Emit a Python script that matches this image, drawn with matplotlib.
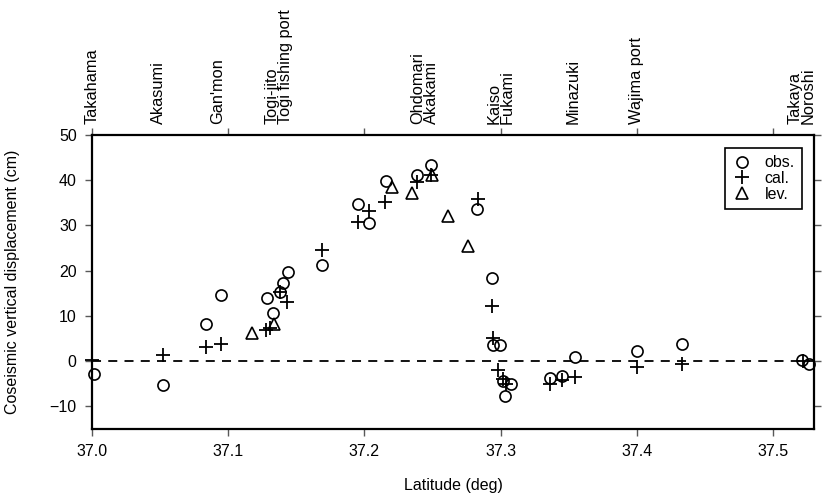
import matplotlib
matplotlib.use("Agg")
import matplotlib.pyplot as plt
from matplotlib.lines import Line2D

plt.rcParams['font.family'] = ['Liberation Sans', 'DejaVu Sans']

# observed displacement (circles)
obs_lat = [37.0015, 37.0519, 37.0837, 37.0945, 37.1283, 37.1327, 37.1380, 37.1405,
           37.1437, 37.1686, 37.1951, 37.2036, 37.2156, 37.2388, 37.2487, 37.2824,
           37.2934, 37.2942, 37.2996, 37.3020, 37.3077, 37.3032, 37.3363, 37.3453,
           37.3546, 37.4004, 37.4334, 37.5211, 37.5260]
obs_val = [-2.8, -5.3, 8.3, 14.5, 13.9, 10.7, 15.3, 17.3,
           19.7, 21.3, 34.6, 30.5, 39.8, 41.1, 43.3, 33.5,
           18.4, 3.5, 3.5, -4.3, -5.0, -7.8, -3.8, -3.4,
           0.8, 2.2, 3.7, 0.3, -0.7]

# calculated displacement (pluses)
cal_lat = [37.0000, 37.0520, 37.0837, 37.0945, 37.1280, 37.1310, 37.1380, 37.1430,
           37.1690, 37.1951, 37.2036, 37.2150, 37.2388, 37.2487, 37.2832, 37.2934,
           37.2940, 37.2983, 37.3015, 37.3040, 37.3363, 37.3450, 37.3546, 37.4004,
           37.4334, 37.5220]
cal_val = [0.2, 1.4, 3.1, 3.7, 6.8, 7.2, 15.3, 13.1,
           24.5, 30.8, 33.1, 35.2, 39.6, 41.1, 35.9, 12.2,
           5.0, -1.9, -4.0, -5.0, -5.0, -4.1, -3.5, -1.2,
           -0.7, 0.0]

# levelling (triangles)
lev_lat = [37.1177, 37.1339, 37.2205, 37.2347, 37.2494, 37.2616, 37.2763]
lev_val = [6.1, 8.1, 38.5, 37.2, 41.1, 32.0, 25.4]

station_lat = [37.000, 37.049, 37.092, 37.137, 37.244, 37.300, 37.353, 37.400, 37.521]
station_names = ["Takahama", "Akasumi", "Gan'mon", "Togi-jito\nTogi fishing port",
                 "Ohdomari\nAkakami", "Kaiso\nFukami", "Minazuki", "Wajima port",
                 "Takaya\nNoroshi"]

xticks = [37.0, 37.1, 37.2, 37.3, 37.4, 37.5]
yticks = [-10, 0, 10, 20, 30, 40, 50]

fig = plt.figure(figsize=(8.22, 4.97), dpi=100)
ax = fig.add_axes([0.1119, 0.1368, 0.8784, 0.5922])

ax.axhline(0, color='black', lw=1.3, ls=(0, (5, 4)), zorder=1)

ms = 8
ax.plot(obs_lat, obs_val, 'o', ms=ms, mfc='none', mec='black', mew=1.2, zorder=3, clip_on=False)
ax.plot(cal_lat, cal_val, '+', ms=ms + 1.5, mec='black', mew=1.3, zorder=3, clip_on=False)
ax.plot(lev_lat, lev_val, '^', ms=ms, mfc='none', mec='black', mew=1.2, zorder=3, clip_on=False)

ax.set_xlim(37.0, 37.53)
ax.set_ylim(-15, 50)
ax.set_xticks(xticks)
ax.set_xticklabels(["%.1f" % v for v in xticks])
ax.set_yticks(yticks)
ax.set_yticklabels([str(v).replace('-', '\u2212') for v in yticks])

ax.tick_params(axis='both', direction='out', length=5, width=1, color='0.35',
               labelsize=11.5, pad=6, top=True, right=True)
for s in ax.spines.values():
    s.set_linewidth(1.6)

ax.set_xlabel("Latitude (deg)", fontsize=11.5)
ax.set_ylabel("Coseismic vertical displacement (cm)", fontsize=11.5)
ax.xaxis.set_label_coords(0.5, -0.165)
ax.yaxis.set_label_coords(-0.0997, 0.5)

for lat, name in zip(station_lat, station_names):
    ax.text(lat, 1.035, name, transform=ax.get_xaxis_transform(), rotation=90,
            ha='center', va='bottom', multialignment='left', fontsize=11.8,
            linespacing=0.85)

handles = [
    Line2D([], [], ls='none', marker='o', ms=ms, mfc='none', mec='black', mew=1.2),
    Line2D([], [], ls='none', marker='+', ms=ms + 1.5, mec='black', mew=1.3),
    Line2D([], [], ls='none', marker='^', ms=ms, mfc='none', mec='black', mew=1.2),
]
leg = ax.legend(handles, ["obs.", "cal.", "lev."], loc='upper right',
                bbox_to_anchor=(0.9834, 0.955), borderaxespad=0, fancybox=False,
                edgecolor='black', framealpha=1, fontsize=11.5, handlelength=1.2,
                handletextpad=0.8, labelspacing=0.05, borderpad=0.45)
leg.get_frame().set_linewidth(1.2)

fig.savefig("out.png", dpi=100)
